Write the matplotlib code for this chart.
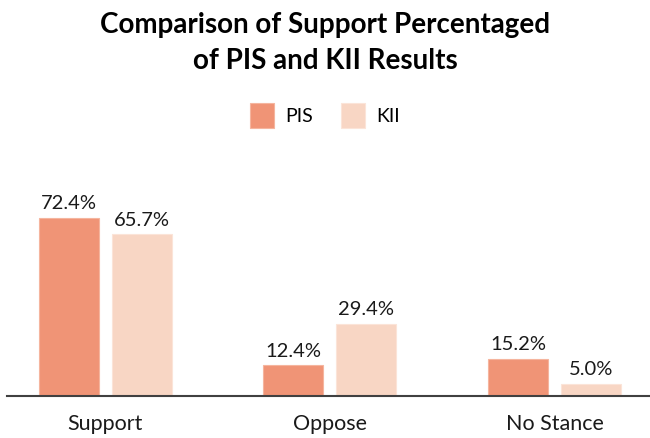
import numpy as np
import matplotlib.pyplot as plt

plt.rcParams['font.family'] = ['Lato', 'DejaVu Sans']

categories = ['Support', 'Oppose', 'No Stance']
pis = [72.4, 12.4, 15.2]
kii = [65.7, 29.4, 5.0]
pis_labels = ['72.4%', '12.4%', '15.2%']
kii_labels = ['65.7%', '29.4%', '5.0%']

fig = plt.figure(figsize=(6.5, 4.38), dpi=100)
ax = fig.add_axes([0.011, 0.096, 0.989, 0.45])

x = np.arange(len(categories))
w = 0.267
off = 0.162
b1 = ax.bar(x - off, pis, w, color='#F09476', edgecolor='#F5B59E', linewidth=0.8, label='PIS')
b2 = ax.bar(x + off, kii, w, color='#F8D6C4', edgecolor='#FBE4D8', linewidth=0.8, label='KII')

for bars, labs in [(b1, pis_labels), (b2, kii_labels)]:
    for b, t in zip(bars, labs):
        ax.annotate(t, (b.get_x() + b.get_width() / 2, b.get_height()),
                    xytext=(0, 4), textcoords='offset points',
                    ha='center', va='bottom', fontsize=14.5, color='#1a1a1a')

ax.set_xlim(-0.436, 2.425)
ax.set_ylim(0, 80)
ax.set_xticks(x)
ax.set_xticklabels(categories, fontsize=15.5, color='#1a1a1a')
ax.tick_params(axis='x', length=0, pad=13)
ax.set_yticks([])
for s in ['top', 'right', 'left']:
    ax.spines[s].set_visible(False)
ax.spines['bottom'].set_color('#404040')
ax.spines['bottom'].set_linewidth(1.5)

fig.text(0.5, 0.972, 'Comparison of Support Percentaged\nof PIS and KII Results',
         ha='center', va='top', fontsize=20, fontweight='bold', linespacing=1.45)

fig.legend(loc='center', bbox_to_anchor=(0.5, 0.737), ncol=2, frameon=False,
           fontsize=14, handlelength=1.25, handleheight=1.6, columnspacing=1.4,
           handletextpad=0.6)

fig.savefig('out.png', dpi=100)
